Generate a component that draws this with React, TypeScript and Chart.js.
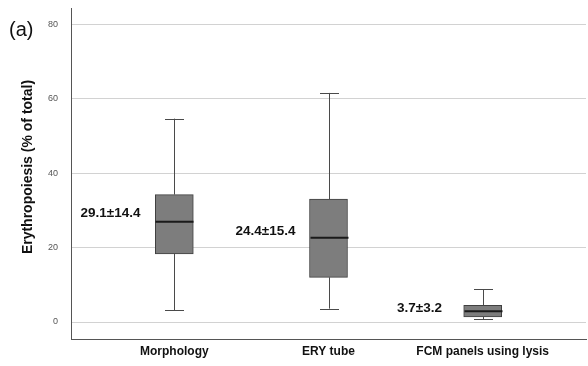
import React, { useEffect, useRef } from "react";
import { Chart, registerables } from "chart.js";

Chart.register(...registerables);

const categories = ["Morphology", "ERY tube", "FCM panels using lysis"];
const minVals = [3.2, 3.6, 0.7];
const q1Vals = [18.3, 12.0, 1.4];
const medianVals = [26.9, 22.6, 2.9];
const q3Vals = [34.2, 33.0, 4.5];
const maxVals = [54.6, 61.5, 8.8];
const meanVals = [29.1, 24.4, 3.7];
const sdVals = [14.4, 15.4, 3.2];
const yTicks = [0, 20, 40, 60, 80];
const yTitle = "Erythropoiesis (% of total)";

const FONT = "Arial, 'Liberation Sans', sans-serif";

const boxPlugin = {
  id: "boxExtras",
  afterDatasetsDraw(chart: any) {
    const { ctx, scales } = chart;
    const xs = scales.x;
    const ys = scales.y;
    const boxW = 38;
    const capW = 19;
    ctx.save();
    categories.forEach((_, i) => {
      const cx = Math.round(xs.getPixelForValue(i)) + 0.5;
      const yMin = ys.getPixelForValue(minVals[i]);
      const yQ1 = ys.getPixelForValue(q1Vals[i]);
      const yMed = ys.getPixelForValue(medianVals[i]);
      const yQ3 = ys.getPixelForValue(q3Vals[i]);
      const yMax = ys.getPixelForValue(maxVals[i]);
      ctx.strokeStyle = "#4a4a4a";
      ctx.lineWidth = 1;
      ctx.beginPath();
      ctx.moveTo(cx, yQ3);
      ctx.lineTo(cx, yMax);
      ctx.moveTo(cx - capW / 2, Math.round(yMax) + 0.5);
      ctx.lineTo(cx + capW / 2, Math.round(yMax) + 0.5);
      ctx.moveTo(cx, yQ1);
      ctx.lineTo(cx, yMin);
      ctx.moveTo(cx - capW / 2, Math.round(yMin) + 0.5);
      ctx.lineTo(cx + capW / 2, Math.round(yMin) + 0.5);
      ctx.stroke();
      ctx.strokeStyle = "#1a1a1a";
      ctx.lineWidth = 2;
      ctx.beginPath();
      ctx.moveTo(cx - boxW / 2, yMed);
      ctx.lineTo(cx + boxW / 2, yMed);
      ctx.stroke();
      ctx.fillStyle = "#111";
      ctx.font = `bold 13.5px ${FONT}`;
      ctx.textAlign = "center";
      ctx.textBaseline = "middle";
      ctx.fillText(
        `${meanVals[i].toFixed(1)}±${sdVals[i].toFixed(1)}`,
        cx - 64,
        ys.getPixelForValue(meanVals[i])
      );
    });
    ctx.fillStyle = "#111";
    ctx.font = `20px ${FONT}`;
    ctx.textAlign = "left";
    ctx.textBaseline = "alphabetic";
    ctx.fillText("(a)", 9, 36);
    ctx.save();
    ctx.translate(28, 167);
    ctx.rotate(-Math.PI / 2);
    ctx.font = `bold 14px ${FONT}`;
    ctx.textAlign = "center";
    ctx.textBaseline = "middle";
    ctx.fillText(yTitle, 0, 0);
    ctx.restore();
    ctx.restore();
  },
};

export default function App() {
  const ref = useRef<HTMLCanvasElement | null>(null);
  useEffect(() => {
    document.body.style.margin = "0";
    const canvas = ref.current!;
    const chart = new Chart(canvas, {
      type: "bar",
      data: {
        datasets: [
          {
            data: categories.map((_, i) => ({ x: i, y: [q1Vals[i], q3Vals[i]] })) as any,
            backgroundColor: "#7d7d7d",
            borderColor: "#404040",
            borderWidth: 1,
            borderSkipped: false,
            barThickness: 38,
          },
        ],
      },
      options: {
        animation: false,
        responsive: false,
        events: [],
        layout: { padding: { left: 0, right: 2, top: 8, bottom: 0 } },
        plugins: { legend: { display: false }, tooltip: { enabled: false } },
        scales: {
          x: {
            type: "linear",
            min: -0.67,
            max: 2.67,
            offset: false,
            afterBuildTicks: (s: any) => {
              s.ticks = categories.map((_, i) => ({ value: i }));
            },
            afterFit: (s: any) => {
              s.height = 27;
              s.paddingLeft = 0;
              s.paddingRight = 0;
            },
            grid: { display: false, drawTicks: false },
            border: { display: true, color: "#555", width: 1 },
            ticks: {
              padding: 5,
              color: "#111",
              font: { family: FONT, size: 12, weight: "bold" },
              autoSkip: false,
              maxRotation: 0,
              callback: (v: any) => categories[v as number] ?? "",
            },
          },
          y: {
            type: "linear",
            min: -4.56,
            max: 84.3,
            afterBuildTicks: (s: any) => {
              s.ticks = yTicks.map((v) => ({ value: v }));
            },
            afterFit: (s: any) => {
              s.width = 71;
              s.paddingTop = 0;
              s.paddingBottom = 0;
            },
            grid: { color: "#d2d2d2", lineWidth: 1, drawTicks: false },
            border: { display: true, color: "#555", width: 1 },
            ticks: {
              padding: 13,
              color: "#555",
              font: { family: FONT, size: 9 },
            },
            title: { display: false },
          },
        },
      },
      plugins: [boxPlugin],
    });
    return () => chart.destroy();
  }, []);
  return (
    <div style={{ width: 588, height: 366, background: "#fff" }}>
      <canvas ref={ref} width={588} height={366} style={{ display: "block" }} />
    </div>
  );
}
